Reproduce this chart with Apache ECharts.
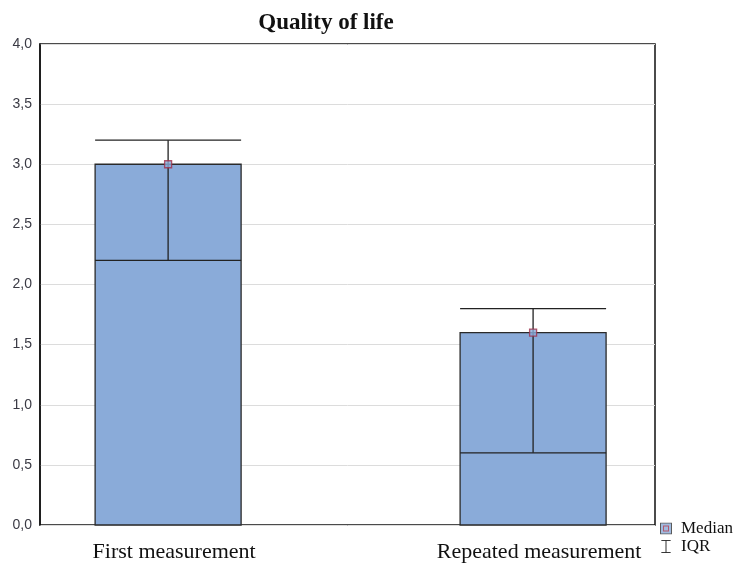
<!DOCTYPE html>
<html><head><meta charset="utf-8">
<script src="https://cdn.jsdelivr.net/npm/echarts@6/dist/echarts.min.js"></script>
<style>html,body{margin:0;padding:0;background:#fff}#c{width:736px;height:564px}</style>
</head><body><div id="c"></div>
<script>
var categories = ['First measurement', 'Repeated measurement'];
var positions = [1, 2];
var medians = [3.0, 1.6];
var q1 = [2.2, 0.6];
var q3 = [3.2, 1.8];

var boxW = 0.4;
var barData = positions.map(function (p, i) { return [p, medians[i], q1[i], q3[i]]; });
var medData = positions.map(function (p, i) { return [p, medians[i]]; });

var medIcon = 'image://data:image/svg+xml;utf8,' + encodeURIComponent('<svg xmlns="http://www.w3.org/2000/svg" width="12" height="12"><rect x="0.5" y="0.5" width="11" height="11" fill="#8aabd9" stroke="#333" stroke-width="1"/><rect x="3.5" y="3.5" width="5" height="5" fill="#8aabd9" stroke="#a0304a" stroke-width="1"/></svg>');
var iqrIcon = 'image://data:image/svg+xml;utf8,' + encodeURIComponent('<svg xmlns="http://www.w3.org/2000/svg" width="12" height="14"><line x1="1" y1="0.5" x2="11" y2="0.5" stroke="#222"/><line x1="6" y1="0.5" x2="6" y2="13.5" stroke="#222"/><line x1="1" y1="13.5" x2="11" y2="13.5" stroke="#222"/></svg>');

var chart = echarts.init(document.getElementById('c'));
chart.setOption({
  animation: false,
  backgroundColor: '#fff',
  title: {
    text: 'Quality of life', left: 321, top: 7, textAlign: 'center',
    textStyle: { fontFamily: 'Liberation Serif', fontWeight: 'bold', fontSize: 23, color: '#111' }
  },
  grid: { left: 40, right: 81, top: 44, bottom: 39, show: true, borderColor: '#111', borderWidth: 1.5, backgroundColor: 'transparent' },
  xAxis: {
    type: 'value', min: 0.649, max: 2.334,
    axisLine: { show: false }, axisTick: { show: false }, splitLine: { show: false },
    axisLabel: {
      customValues: positions,
      formatter: function (v) { var i = positions.indexOf(v); return i >= 0 ? categories[i] : ''; },
      fontFamily: 'Liberation Serif', fontSize: 22, color: '#111', margin: 16, padding: [0, 0, 0, 12]
    }
  },
  yAxis: {
    type: 'value', min: 0, max: 4, interval: 0.5,
    axisLine: { show: true, lineStyle: { color: '#111', width: 1.5 } },
    axisTick: { show: false },
    splitLine: { show: true, lineStyle: { color: '#dcdcdc', width: 1 } },
    axisLabel: {
      formatter: function (v) { return v.toFixed(1).replace('.', ','); },
      fontFamily: 'Liberation Sans', fontSize: 14, color: '#3a3a44', margin: 8
    }
  },
  legend: {
    orient: 'vertical', left: 655, top: 515, itemGap: 1, itemWidth: 12, itemHeight: 13,
    textStyle: { fontFamily: 'Liberation Serif', fontSize: 17, color: '#111', padding: [0, 0, 0, 4] },
    data: [{ name: 'Median', icon: medIcon }, { name: 'IQR', icon: iqrIcon }]
  },
  series: [
    {
      name: 'IQR', type: 'custom', data: barData,
      renderItem: function (params, api) {
        var x = api.value(0);
        var w = api.size([boxW, 0])[0];
        var b = api.coord([x, 0]);
        var t = api.coord([x, api.value(1)]);
        var lo = api.coord([x, api.value(2)]);
        var hi = api.coord([x, api.value(3)]);
        var ls = { stroke: '#222', lineWidth: 1.3 };
        return {
          type: 'group', children: [
            { type: 'rect', shape: { x: b[0] - w / 2, y: t[1], width: w, height: b[1] - t[1] }, style: { fill: '#8aabd9', stroke: '#2a2a2a', lineWidth: 1.3 } },
            { type: 'line', shape: { x1: lo[0], y1: lo[1], x2: hi[0], y2: hi[1] }, style: ls },
            { type: 'line', shape: { x1: lo[0] - w / 2, y1: lo[1], x2: lo[0] + w / 2, y2: lo[1] }, style: ls },
            { type: 'line', shape: { x1: hi[0] - w / 2, y1: hi[1], x2: hi[0] + w / 2, y2: hi[1] }, style: ls }
          ]
        };
      }
    },
    {
      name: 'Median', type: 'scatter', data: medData, symbol: 'rect', symbolSize: 7, z: 5,
      itemStyle: { color: '#8aabd9', borderColor: '#a0304a', borderWidth: 1.3 }
    }
  ]
});
</script></body></html>
